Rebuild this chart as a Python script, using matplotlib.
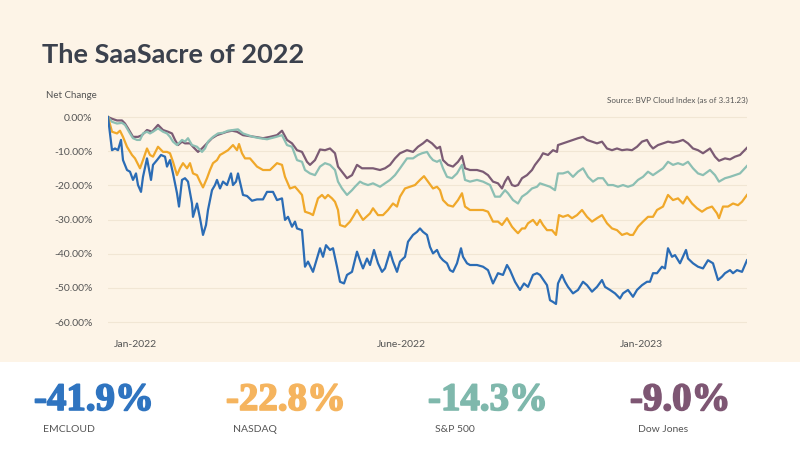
import matplotlib
matplotlib.use("Agg")
import matplotlib.pyplot as plt
from matplotlib.patches import Rectangle
import matplotlib.patheffects as pe

# ---------------- data (t = position along Jan-2022 .. Mar-2023 period) ----------------
emcloud_t = [0, 4, 7, 10, 13, 15, 19, 22, 25, 28, 30, 33, 35, 39, 43, 45, 49, 53, 57, 59, 62, 65, 69, 71, 74, 77, 80, 84, 85, 89, 92, 95, 98, 100, 104, 107, 109, 112, 115, 119, 123, 125, 128, 130, 135, 139, 144, 149, 155, 159, 165, 169, 174, 177, 180, 184, 187, 189, 194, 197, 200, 205, 209, 212, 215, 218, 222, 225, 229, 232, 236, 239, 244, 249, 253, 255, 259, 262, 266, 270, 274, 277, 282, 285, 289, 292, 297, 300, 305, 309, 312, 315, 319, 322, 325, 329, 332, 335, 339, 342, 345, 349, 353, 355, 359, 362, 369, 375, 380, 385, 390, 395, 399, 402, 407, 412, 416, 420, 425, 429, 432, 439, 442, 445, 448, 450, 454, 457, 460, 465, 470, 475, 479, 484, 489, 494, 497, 502, 507, 512, 515, 520, 525, 529, 534, 539, 542, 545, 549, 554, 557, 560, 564, 567, 572, 578, 580, 585, 590, 595, 600, 605, 610, 614, 617, 622, 625, 629, 634, 639]
emcloud_v = [0, -9.7, -9.2, -9.7, -6.7, -12.6, -15.5, -16.0, -18.4, -16.5, -19.9, -21.9, -17.5, -12.1, -18.4, -14.0, -12.6, -11.1, -11.6, -14.5, -12.6, -16.5, -22.3, -26.2, -18.4, -17.9, -18.9, -25.3, -29.2, -25.3, -29.6, -34.5, -31.6, -27.2, -21.4, -19.9, -18.4, -20.9, -18.9, -19.9, -16.5, -19.9, -18.9, -16.5, -22.8, -23.1, -24.5, -24.1, -24.1, -21.9, -21.9, -24.3, -23.8, -30.1, -29.2, -32.1, -30.6, -32.6, -33.1, -43.8, -42.3, -45.3, -41.4, -38.4, -40.9, -37.5, -38.9, -38.4, -43.8, -48.2, -48.7, -46.2, -45.3, -39.4, -42.8, -44.3, -41.4, -43.3, -38.9, -42.8, -45.3, -44.3, -39.4, -42.3, -45.3, -42.3, -40.9, -36.5, -34.5, -33.6, -32.6, -33.6, -34.5, -38.0, -39.9, -38.9, -40.9, -41.9, -42.8, -44.8, -45.3, -42.8, -38.4, -40.9, -42.8, -43.3, -43.3, -43.8, -44.8, -48.7, -45.7, -46.2, -43.3, -44.8, -48.2, -50.6, -48.7, -49.7, -46.2, -45.7, -46.2, -49.2, -53.6, -54.1, -54.7, -48.7, -46.2, -48.2, -49.7, -51.6, -50.6, -48.2, -49.2, -51.1, -49.7, -47.7, -49.7, -50.6, -51.6, -53.1, -51.6, -50.6, -52.6, -50.6, -49.2, -48.2, -48.2, -45.7, -45.7, -43.8, -44.3, -38.4, -40.9, -40.4, -42.8, -38.9, -41.4, -42.8, -43.8, -44.3, -41.9, -42.8, -47.7, -46.7, -45.7, -44.8, -45.7, -44.8, -45.3, -41.9]

nasdaq_t = [0, 4, 9, 12, 15, 19, 24, 27, 32, 35, 39, 42, 45, 50, 55, 59, 62, 65, 69, 72, 75, 79, 82, 85, 89, 92, 95, 99, 102, 105, 109, 112, 115, 120, 125, 129, 131, 134, 137, 142, 149, 155, 162, 169, 174, 177, 182, 187, 190, 194, 197, 202, 205, 210, 214, 217, 220, 224, 227, 230, 232, 237, 242, 245, 249, 252, 255, 262, 265, 270, 275, 280, 285, 289, 292, 297, 302, 307, 312, 316, 320, 325, 329, 332, 335, 340, 345, 350, 354, 357, 362, 369, 375, 380, 385, 390, 394, 399, 404, 407, 410, 414, 417, 420, 425, 429, 432, 435, 439, 444, 448, 451, 455, 460, 464, 469, 474, 479, 484, 489, 494, 499, 504, 509, 514, 519, 522, 525, 530, 535, 540, 545, 549, 555, 560, 565, 570, 575, 579, 584, 589, 594, 599, 604, 609, 611, 615, 620, 625, 630, 634, 639]
nasdaq_v = [0, -4.3, -4.8, -4.0, -5.8, -8.7, -11.1, -12.1, -15.0, -12.6, -9.2, -11.1, -11.6, -8.7, -10.2, -10.2, -10.6, -13.1, -17.0, -15.0, -13.5, -15.0, -13.5, -16.5, -17.0, -18.9, -20.6, -17.9, -15.5, -13.5, -12.6, -11.1, -10.6, -9.7, -8.2, -9.7, -7.9, -10.6, -12.1, -12.1, -14.5, -15.5, -15.5, -13.5, -14.0, -17.5, -20.9, -20.4, -21.4, -22.8, -27.7, -28.2, -28.7, -23.8, -22.8, -23.8, -22.8, -23.8, -24.8, -27.2, -31.6, -32.1, -30.6, -29.2, -27.2, -28.7, -30.1, -28.2, -26.7, -28.7, -28.7, -27.2, -25.3, -26.2, -23.3, -20.9, -20.4, -19.9, -18.4, -17.3, -18.9, -20.9, -20.4, -21.4, -24.3, -25.8, -26.2, -24.3, -22.3, -26.2, -27.2, -27.2, -27.2, -27.7, -30.6, -30.6, -31.6, -29.6, -32.1, -33.1, -34.0, -32.6, -32.6, -31.1, -30.1, -31.6, -30.1, -31.6, -33.1, -33.1, -34.5, -28.7, -29.2, -28.7, -29.6, -28.7, -27.2, -29.2, -30.6, -29.6, -28.7, -31.1, -32.6, -33.1, -34.5, -34.0, -34.5, -34.5, -32.1, -30.6, -29.2, -29.2, -27.2, -26.2, -22.8, -24.3, -23.8, -25.3, -23.3, -25.3, -26.7, -27.7, -26.7, -26.2, -28.2, -29.6, -26.2, -26.2, -25.3, -25.8, -24.8, -22.8]

sp500_t = [0, 4, 9, 14, 17, 22, 25, 29, 32, 35, 39, 42, 45, 50, 55, 59, 62, 65, 69, 74, 77, 80, 84, 89, 94, 97, 100, 105, 110, 115, 120, 125, 130, 135, 140, 145, 152, 159, 167, 174, 179, 184, 189, 194, 197, 202, 207, 212, 217, 222, 227, 230, 234, 239, 244, 247, 252, 255, 260, 265, 272, 277, 282, 287, 292, 299, 305, 310, 314, 319, 322, 325, 329, 332, 335, 339, 344, 349, 354, 357, 362, 369, 375, 382, 387, 392, 397, 400, 405, 410, 414, 419, 424, 429, 432, 437, 442, 447, 450, 455, 460, 465, 470, 475, 480, 485, 490, 495, 500, 505, 510, 515, 520, 525, 530, 535, 540, 545, 550, 555, 560, 565, 570, 575, 580, 585, 590, 595, 602, 607, 611, 617, 622, 627, 632, 639]
sp500_v = [0, -1.4, -1.9, -1.7, -2.3, -4.8, -6.2, -6.7, -6.7, -4.8, -4.3, -4.8, -4.3, -3.3, -4.3, -4.8, -5.8, -7.2, -8.2, -6.7, -7.2, -6.2, -8.2, -8.7, -10.2, -9.2, -7.2, -5.8, -4.8, -4.6, -4.0, -3.8, -3.6, -4.8, -5.3, -5.8, -6.2, -6.5, -5.9, -5.3, -8.2, -8.7, -12.6, -13.1, -15.5, -16.5, -17.0, -14.5, -13.5, -14.0, -15.5, -18.9, -20.9, -22.8, -21.4, -20.4, -18.9, -19.4, -19.9, -19.4, -20.4, -19.4, -18.4, -17.0, -15.0, -12.1, -12.1, -11.1, -10.6, -10.2, -11.6, -12.6, -13.1, -12.6, -15.0, -17.5, -17.9, -16.5, -14.0, -18.4, -18.9, -18.4, -18.9, -19.9, -23.3, -23.3, -21.4, -22.3, -24.3, -25.3, -23.3, -22.3, -20.9, -20.4, -19.4, -19.9, -20.4, -21.4, -16.5, -16.5, -16.0, -17.5, -16.0, -15.0, -17.5, -18.9, -17.9, -17.9, -19.9, -19.9, -20.4, -19.9, -20.4, -19.9, -18.4, -17.5, -16.0, -17.0, -16.0, -15.0, -13.1, -14.0, -13.5, -14.0, -13.1, -15.0, -16.5, -17.0, -15.5, -17.0, -18.9, -17.9, -17.5, -17.0, -16.5, -14.3]

dow_t = [0, 4, 9, 14, 17, 20, 25, 30, 34, 39, 44, 47, 50, 55, 60, 64, 67, 70, 74, 77, 82, 85, 90, 94, 99, 104, 109, 114, 119, 124, 129, 135, 142, 149, 155, 162, 169, 174, 179, 184, 189, 194, 199, 202, 207, 212, 217, 222, 227, 230, 234, 239, 244, 249, 254, 259, 265, 272, 277, 282, 287, 292, 299, 305, 310, 315, 319, 324, 329, 332, 335, 340, 345, 350, 354, 357, 362, 369, 375, 380, 385, 390, 394, 397, 400, 404, 407, 410, 414, 419, 424, 427, 432, 435, 440, 445, 449, 450, 455, 460, 465, 470, 475, 479, 484, 489, 494, 499, 504, 509, 514, 519, 524, 529, 534, 539, 542, 545, 550, 555, 560, 565, 570, 575, 580, 585, 590, 595, 602, 607, 611, 617, 622, 627, 632, 639]
dow_v = [0, -0.5, -1.0, -1.0, -1.9, -3.3, -5.8, -5.8, -5.3, -3.8, -4.3, -3.3, -2.3, -3.8, -4.3, -4.8, -6.7, -8.2, -7.2, -7.7, -7.7, -8.7, -10.2, -9.2, -7.7, -6.2, -5.3, -4.8, -4.3, -4.0, -4.3, -5.3, -5.6, -5.9, -6.2, -5.8, -5.3, -4.0, -6.7, -7.7, -9.7, -10.2, -13.1, -14.0, -12.6, -9.5, -9.7, -9.2, -10.6, -14.5, -16.0, -17.9, -17.0, -14.0, -15.0, -15.0, -15.0, -15.5, -15.0, -14.0, -12.1, -10.6, -9.7, -10.2, -8.7, -7.7, -6.7, -7.7, -9.2, -8.7, -12.6, -14.0, -14.5, -13.1, -11.4, -15.0, -15.5, -15.5, -16.0, -17.0, -18.9, -19.4, -20.9, -18.9, -17.5, -19.9, -20.2, -19.9, -17.9, -17.0, -15.5, -14.0, -12.1, -10.6, -11.1, -9.7, -10.2, -8.2, -7.7, -7.2, -6.7, -6.2, -5.8, -6.7, -7.2, -7.7, -7.2, -9.2, -9.7, -9.2, -9.7, -9.5, -9.7, -8.7, -7.2, -6.7, -8.2, -9.2, -8.2, -7.7, -7.2, -7.5, -7.2, -6.7, -7.7, -9.2, -9.7, -10.6, -9.2, -11.6, -12.8, -12.1, -12.4, -11.6, -11.1, -9.0]

series_names = ["EMCLOUD", "NASDAQ", "S&P 500", "Dow Jones"]
final_changes = ["-41.9%", "-22.8%", "-14.3%", "-9.0%"]
line_colors = ["#2b6cb5", "#f0a82a", "#8cbfb3", "#7b5b74"]
number_colors = ["#2f74c0", "#f5b45e", "#7fb8ac", "#7e5673"]

y_ticks = [0, -10, -20, -30, -40, -50, -60]
x_tick_pos = [27, 293, 533]
x_tick_labels = ["Jan-2022", "June-2022", "Jan-2023"]

# ---------------- figure ----------------
BG = "#fdf4e7"
plt.rcParams["font.family"] = ["Lato", "DejaVu Sans"]
fig = plt.figure(figsize=(8, 4.5), dpi=100)
fig.patch.set_facecolor(BG)

# white bottom strip
fig.patches.append(Rectangle((0, 0), 1, 1 - 362 / 450, transform=fig.transFigure,
                             facecolor="white", edgecolor="none", zorder=0))

ax = fig.add_axes([0.135, 0.2691, 0.79875, 0.486])
ax.set_facecolor(BG)
ax.set_xlim(0, 639)
ax.set_ylim(-62, 2)

for s in ax.spines.values():
    s.set_visible(False)

ax.set_yticks(y_ticks)
ax.set_yticklabels([f"{v:.2f}%" for v in y_ticks])
ax.tick_params(axis="y", length=0, pad=11, labelsize=7.5, labelcolor="#555555")
ax.set_xticks(x_tick_pos)
ax.set_xticklabels(x_tick_labels)
ax.tick_params(axis="x", length=0, pad=8, labelsize=7.5, labelcolor="#555555")
ax.grid(axis="y", color="#f1e6d4", linewidth=0.8)
ax.set_axisbelow(True)

# draw lines (back to front like reference)
for t, v, c in [(dow_t, dow_v, line_colors[3]), (sp500_t, sp500_v, line_colors[2]),
                (nasdaq_t, nasdaq_v, line_colors[1]), (emcloud_t, emcloud_v, line_colors[0])]:
    ax.plot(t, v, color=c, linewidth=1.6, solid_joinstyle="round")

# texts
fig.text(42 / 800, 1 - 63 / 450, "The SaaSacre of 2022", fontsize=19.5, fontweight="bold",
         color="#3b414d", va="baseline", ha="left")
fig.text(46 / 800, 1 - 98 / 450, "Net Change", fontsize=7, color="#555555",
         va="baseline", ha="left")
fig.text(748 / 800, 1 - 103 / 450, "Source: BVP Cloud Index (as of 3.31.23)", fontsize=5.8,
         color="#555555", va="baseline", ha="right")

num_x = [34, 226, 428, 630]
lab_x = [43, 233, 435, 638]
for i in range(4):
    fig.text(num_x[i] / 800, 1 - 410 / 450, final_changes[i], fontsize=28, fontweight="bold",
             family=["Liberation Serif", "DejaVu Serif"], color=number_colors[i],
             va="baseline", ha="left",
             path_effects=[pe.withStroke(linewidth=1.2, foreground=number_colors[i])])
    fig.text(lab_x[i] / 800, 1 - 432 / 450, series_names[i], fontsize=7.5, color="#555555",
             va="baseline", ha="left")

fig.savefig("out.png", dpi=100, facecolor=fig.get_facecolor())
